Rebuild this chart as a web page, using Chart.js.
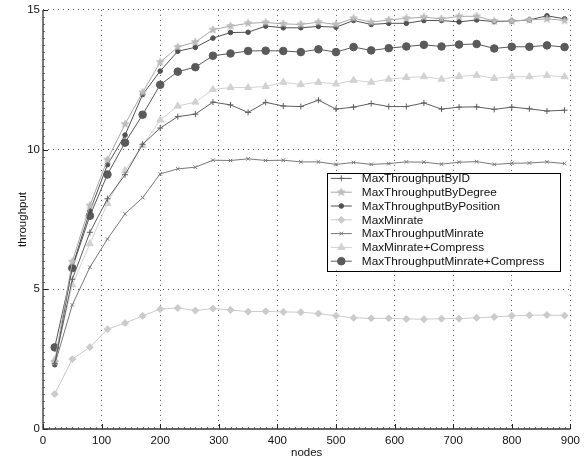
<!DOCTYPE html>
<html><head><meta charset="utf-8">
<script src="https://cdn.jsdelivr.net/npm/chart.js@4.4.0/dist/chart.umd.min.js"></script>
<style>html,body{margin:0;padding:0;background:#fff}#wrap{width:585px;height:461px}</style>
</head><body><div id="wrap"><canvas id="c" width="585" height="461"></canvas></div>
<script>
const nodes = [20,50,80,110,140,170,200,230,260,290,320,350,380,410,440,470,500,530,560,590,620,650,680,710,740,770,800,830,860,890];
const seriesNames = ['MaxThroughputByID','MaxThroughputByDegree','MaxThroughputByPosition','MaxMinrate','MaxThroughputMinrate','MaxMinrate+Compress','MaxThroughputMinrate+Compress'];
const maxThroughputByID = [2.35,5.36,7.04,8.24,9.1,10.19,10.77,11.18,11.27,11.7,11.6,11.33,11.69,11.56,11.54,11.77,11.45,11.52,11.65,11.54,11.54,11.67,11.45,11.52,11.53,11.44,11.52,11.46,11.38,11.41];
const maxThroughputByDegree = [2.4,5.99,8.0,9.64,10.91,12.05,13.13,13.67,13.85,14.29,14.42,14.52,14.55,14.5,14.48,14.56,14.48,14.7,14.56,14.64,14.7,14.74,14.68,14.77,14.77,14.6,14.6,14.64,14.68,14.62];
const maxThroughputByPosition = [2.3,5.81,7.8,9.46,10.52,11.97,12.81,13.52,13.66,13.99,14.19,14.2,14.42,14.36,14.36,14.41,14.38,14.62,14.48,14.52,14.52,14.62,14.62,14.57,14.64,14.58,14.6,14.64,14.79,14.68];
const maxMinrate = [1.25,2.5,2.93,3.57,3.79,4.05,4.29,4.33,4.24,4.31,4.26,4.2,4.21,4.19,4.18,4.13,4.05,3.98,3.96,3.96,3.94,3.93,3.95,3.95,3.98,4.01,4.05,4.07,4.08,4.06];
const maxThroughputMinrate = [2.3,4.44,5.79,6.8,7.7,8.28,9.13,9.31,9.37,9.62,9.61,9.67,9.61,9.62,9.56,9.56,9.47,9.54,9.47,9.5,9.56,9.55,9.48,9.55,9.57,9.47,9.51,9.52,9.56,9.5];
const maxMinrateCompress = [2.48,5.16,6.63,8.08,9.25,10.15,11.06,11.56,11.7,12.15,12.22,12.22,12.26,12.41,12.33,12.41,12.35,12.48,12.41,12.52,12.58,12.61,12.52,12.62,12.66,12.55,12.61,12.61,12.65,12.61];
const maxThroughputMinrateCompress = [2.92,5.76,7.63,9.11,10.25,11.25,12.32,12.79,12.95,13.36,13.44,13.53,13.54,13.53,13.49,13.59,13.49,13.67,13.55,13.63,13.69,13.75,13.69,13.76,13.78,13.62,13.68,13.68,13.73,13.67];
const xTickLabels = ['0','100','200','300','400','500','600','700','800','900'];
const yTickLabels = ['0','5','10','15'];

const FONT = '"Liberation Sans", Arial, Helvetica, sans-serif';
Chart.defaults.font.family = FONT;

function makeStar(fill, stroke, r){
  const s = Math.ceil(r*2+3);
  const c = document.createElement('canvas'); c.width = s; c.height = s;
  const g = c.getContext('2d');
  g.beginPath();
  for (let i=0;i<10;i++){
    const rad = (i%2) ? r*0.45 : r;
    const a = -Math.PI/2 + i*Math.PI/5;
    const px = s/2 + rad*Math.cos(a), py = s/2 + rad*Math.sin(a);
    if (i) g.lineTo(px,py); else g.moveTo(px,py);
  }
  g.closePath(); g.fillStyle = fill; g.fill();
  g.strokeStyle = stroke; g.lineWidth = 0.6; g.stroke();
  return c;
}
const starImg = makeStar('#bdbdbd','#b0b0b0',4.1);

const styles = [
  {color:'#5e5e5e', fill:'#5e5e5e', pointStyle:'cross', radius:3.0},
  {color:'#a8a8a8', fill:'#bdbdbd', pointStyle:starImg, radius:4.1},
  {color:'#515151', fill:'#515151', pointStyle:'circle', radius:2.3},
  {color:'#cbcbcb', fill:'#cbcbcb', pointStyle:'rectRot', radius:3.5},
  {color:'#787878', fill:'#787878', pointStyle:'crossRot', radius:2.5},
  {color:'#d2d2d2', fill:'#d2d2d2', pointStyle:'triangle', radius:4.1},
  {color:'#5a5a5a', fill:'#5a5a5a', pointStyle:'circle', radius:3.8}
];
const allSeries = [maxThroughputByID, maxThroughputByDegree, maxThroughputByPosition, maxMinrate, maxThroughputMinrate, maxMinrateCompress, maxThroughputMinrateCompress];

const datasets = allSeries.map((vals, i) => ({
  label: seriesNames[i],
  data: nodes.map((n, k) => ({x: n, y: vals[k]})),
  borderColor: styles[i].color,
  backgroundColor: styles[i].fill,
  borderWidth: 1,
  pointStyle: styles[i].pointStyle,
  pointRadius: styles[i].radius,
  pointBorderWidth: 1,
  pointBorderColor: styles[i].color,
  pointBackgroundColor: styles[i].fill,
  tension: 0,
  fill: false
}));

const axisPlugin = {
  id: 'matlabAxes',
  afterDatasetsDraw(chart){
    const ctx = chart.ctx, xs = chart.scales.x, ys = chart.scales.y;
    const L = chart.chartArea.left, B = chart.chartArea.bottom;
    ctx.save();
    ctx.strokeStyle = '#777'; ctx.lineWidth = 1;
    ctx.beginPath();
    for (let v = 0; v <= 900; v += 10) { const px = Math.round(xs.getPixelForValue(v)) + 0.5; ctx.moveTo(px, B); ctx.lineTo(px, B - 2); }
    for (let v = 0; v <= 15; v += 0.25) { const py = Math.round(ys.getPixelForValue(v)) + 0.5; ctx.moveTo(L, py); ctx.lineTo(L + 2, py); }
    ctx.stroke();
    ctx.strokeStyle = '#222';
    ctx.beginPath();
    xTickLabels.forEach(t => { const px = Math.round(xs.getPixelForValue(+t)) + 0.5; ctx.moveTo(px, B); ctx.lineTo(px, B - 5); });
    yTickLabels.forEach(t => { const py = Math.round(ys.getPixelForValue(+t)) + 0.5; ctx.moveTo(L, py); ctx.lineTo(L + 5, py); });
    ctx.stroke();
    ctx.strokeStyle = '#333'; ctx.lineWidth = 1.3;
    ctx.beginPath();
    ctx.moveTo(L, chart.chartArea.top); ctx.lineTo(L, B); ctx.lineTo(chart.chartArea.right, B);
    ctx.stroke();
    ctx.restore();
  }
};

const legendPlugin = {
  id: 'boxLegend',
  afterDraw(chart){
    const ctx = chart.ctx, ca = chart.chartArea;
    ctx.save();
    ctx.font = '11.8px ' + FONT;
    const rowH = 13.8;
    const right = ca.right - 11, top = ca.top + 163;
    let maxW = 0;
    seriesNames.forEach(n => { maxW = Math.max(maxW, ctx.measureText(n).width); });
    const textX = right - 15 - maxW;
    const left = textX - 35;
    const h = rowH * seriesNames.length + 1;
    ctx.fillStyle = '#fff';
    ctx.fillRect(left, top, right - left, h);
    ctx.strokeStyle = '#000'; ctx.lineWidth = 1;
    ctx.strokeRect(Math.round(left) + 0.5, Math.round(top) + 0.5, Math.round(right - left), Math.round(h));
    seriesNames.forEach((n, i) => {
      const cy = top + 5.5 + i * rowH;
      const st = styles[i];
      ctx.strokeStyle = st.color; ctx.lineWidth = 1;
      ctx.beginPath(); ctx.moveTo(left + 4, cy); ctx.lineTo(left + 25, cy); ctx.stroke();
      ctx.fillStyle = st.fill; ctx.strokeStyle = st.color;
      Chart.helpers.drawPoint(ctx, {pointStyle: st.pointStyle, radius: st.radius, rotation: 0, borderWidth: 1}, left + 14.5, cy);
      ctx.fillStyle = '#111';
      ctx.textBaseline = 'middle';
      ctx.textAlign = 'left';
      ctx.fillText(n, textX, cy + 0.5);
    });
    ctx.restore();
  }
};

const gridColor = c => (c.tick && c.tick.value === 0) ? 'rgba(0,0,0,0)' : '#555';

new Chart(document.getElementById('c'), {
  type: 'line',
  data: { datasets },
  plugins: [axisPlugin, legendPlugin],
  options: {
    responsive: false,
    animation: false,
    devicePixelRatio: 1,
    layout: { padding: { top: 9, right: 9, left: 0, bottom: 0 } },
    plugins: { legend: { display: false }, tooltip: { enabled: false } },
    scales: {
      x: {
        type: 'linear', min: 0, max: 900,
        ticks: { stepSize: 100, autoSkip: false, maxRotation: 0, color: '#111', font: { size: 11.5 }, padding: 5,
                 callback: (v) => xTickLabels.includes(String(v)) ? String(v) : '' },
        grid: { drawTicks: false, color: gridColor, lineWidth: 1 },
        border: { display: false, dash: [1, 4] },
        title: { display: true, text: 'nodes', color: '#111', font: { size: 11.5 }, padding: { top: 0, bottom: 1 } },
        afterFit(s) { s.height = 32; }
      },
      y: {
        min: 0, max: 15,
        ticks: { stepSize: 5, color: '#111', font: { size: 11.5 }, padding: 3,
                 callback: (v) => yTickLabels.includes(String(v)) ? String(v) : '' },
        grid: { drawTicks: false, color: gridColor, lineWidth: 1 },
        border: { display: false, dash: [1, 4] },
        title: { display: true, text: 'throughput', color: '#111', font: { size: 11.5 }, padding: { top: 16, bottom: 0 } },
        afterFit(s) { s.width = 43; }
      }
    }
  }
});
</script>
</body></html>
